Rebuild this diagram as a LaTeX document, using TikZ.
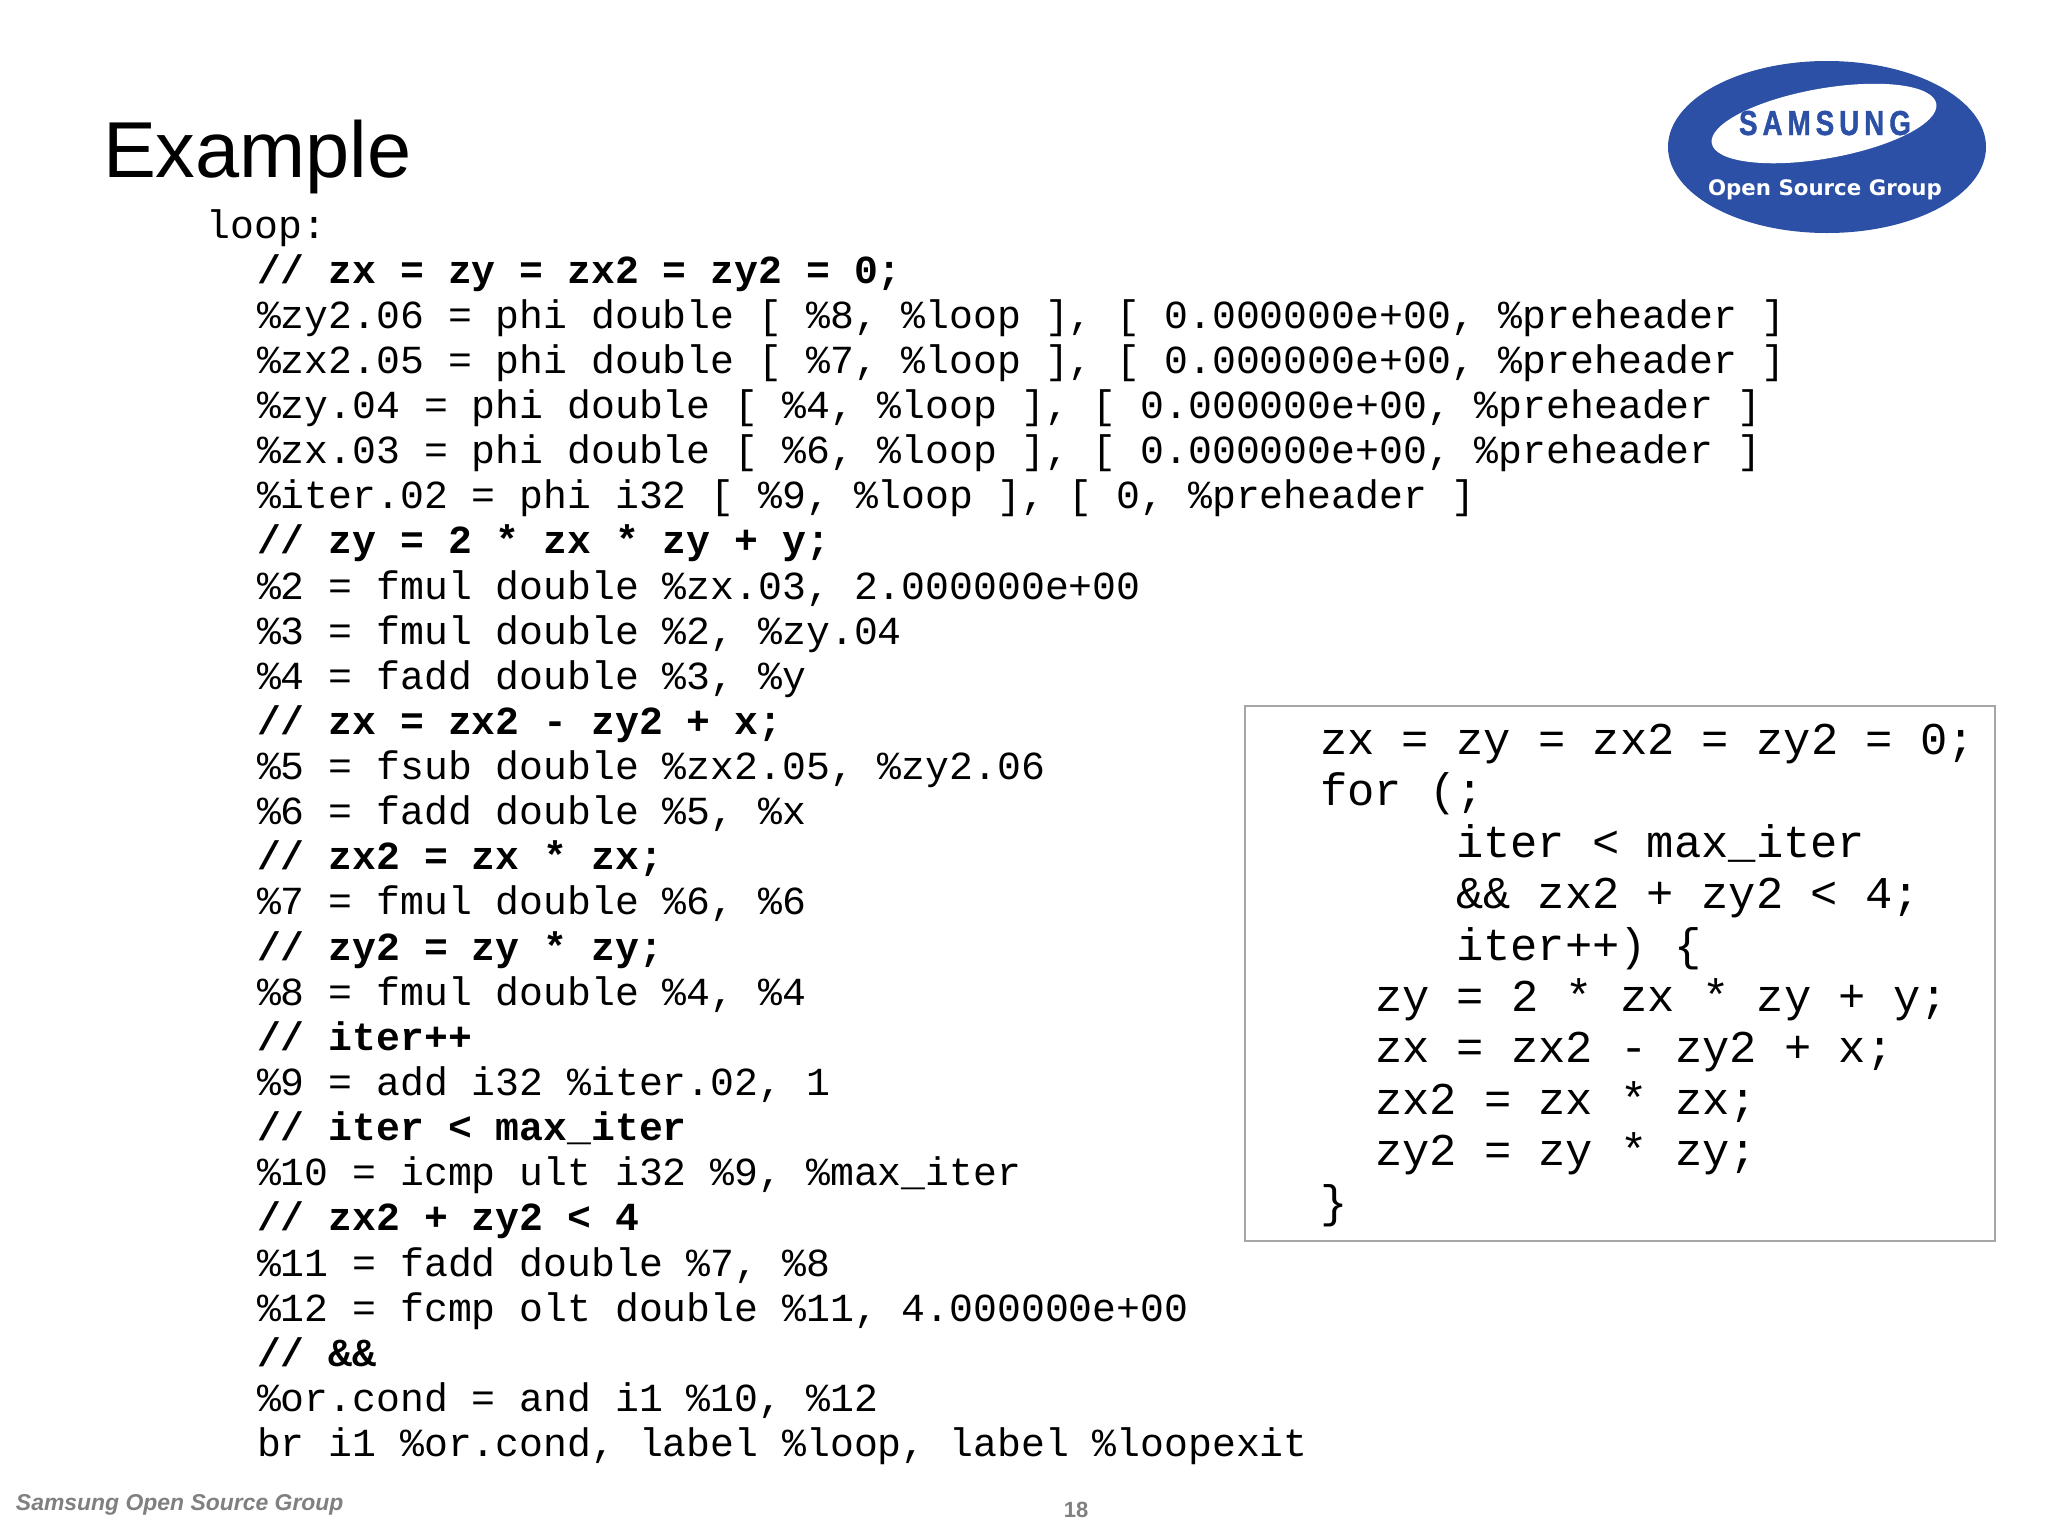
\documentclass[tikz,border=0pt]{standalone}
\usepackage{fontspec}
\setmainfont{Liberation Sans}
\setmonofont{Liberation Mono}
\newfontfamily\logofont{DejaVu Sans}
\newfontfamily\samsungfont[FakeStretch=0.8,LetterSpace=14.5,FakeBold=1.2]{Liberation Sans}
\definecolor{logoblue}{HTML}{2B50A5}
\definecolor{footgray}{HTML}{808080}
\definecolor{boxgray}{HTML}{A6A6A6}
\newcommand{\mainline}[4]{\node[maincode] (#1) at (#3,{238+45.13*#2}) {#4};}
\newcommand{\boxline}[4]{\node[boxcode] (#1) at (#3,{754.5+51.4*#2}) {#4};}
\tikzset{
  txt/.style={inner sep=0pt,outer sep=0pt,anchor=base west},
  maincode/.style={txt,font=\fontsize{29.85pt}{30pt}\selectfont\ttfamily},
  boxcode/.style={txt,font=\fontsize{34.1pt}{34pt}\selectfont\ttfamily},
}
\begin{document}
\begin{tikzpicture}[x=0.75pt,y=-0.75pt]
\useasboundingbox (0,0) rectangle (2048,1536);
\fill[white] (0,0) rectangle (2048,1536);
% title
\node[txt,font=\fontsize{59.5pt}{60pt}\selectfont] (title) at (103,177) {Example};
% logo
\fill[logoblue] (1827,147) ellipse [x radius=159,y radius=86];
\fill[white,rotate around={10:(1824,123.5)}] (1824,123.5) ellipse [x radius=114,y radius=35];
\node[txt,font=\fontsize{26pt}{26pt}\selectfont\samsungfont\bfseries,text=logoblue] (samsung) at (1739,135) {SAMSUNG};
\node[txt,font=\fontsize{16pt}{18pt}\selectfont\logofont\bfseries,text=white] (osg) at (1708,195.5) {Open Source Group};
% main code
\mainline{m0}{0}{206.5}{loop:}
\mainline{m1}{1}{257}{\bfseries // zx = zy = zx2 = zy2 = 0;}
\mainline{m2}{2}{257}{\%zy2.06 = phi double [ \%8, \%loop ], [ 0.000000e+00, \%preheader ]}
\mainline{m3}{3}{257}{\%zx2.05 = phi double [ \%7, \%loop ], [ 0.000000e+00, \%preheader ]}
\mainline{m4}{4}{257}{\%zy.04 = phi double [ \%4, \%loop ], [ 0.000000e+00, \%preheader ]}
\mainline{m5}{5}{257}{\%zx.03 = phi double [ \%6, \%loop ], [ 0.000000e+00, \%preheader ]}
\mainline{m6}{6}{257}{\%iter.02 = phi i32 [ \%9, \%loop ], [ 0, \%preheader ]}
\mainline{m7}{7}{257}{\bfseries // zy = 2 * zx * zy + y;}
\mainline{m8}{8}{257}{\%2 = fmul double \%zx.03, 2.000000e+00}
\mainline{m9}{9}{257}{\%3 = fmul double \%2, \%zy.04}
\mainline{m10}{10}{257}{\%4 = fadd double \%3, \%y}
\mainline{m11}{11}{257}{\bfseries // zx = zx2 - zy2 + x;}
\mainline{m12}{12}{257}{\%5 = fsub double \%zx2.05, \%zy2.06}
\mainline{m13}{13}{257}{\%6 = fadd double \%5, \%x}
\mainline{m14}{14}{257}{\bfseries // zx2 = zx * zx;}
\mainline{m15}{15}{257}{\%7 = fmul double \%6, \%6}
\mainline{m16}{16}{257}{\bfseries // zy2 = zy * zy;}
\mainline{m17}{17}{257}{\%8 = fmul double \%4, \%4}
\mainline{m18}{18}{257}{\bfseries // iter++}
\mainline{m19}{19}{257}{\%9 = add i32 \%iter.02, 1}
\mainline{m20}{20}{257}{\bfseries // iter < max\_iter}
\mainline{m21}{21}{257}{\%10 = icmp ult i32 \%9, \%max\_iter}
\mainline{m22}{22}{257}{\bfseries // zx2 + zy2 < 4}
\mainline{m23}{23}{257}{\%11 = fadd double \%7, \%8}
\mainline{m24}{24}{257}{\%12 = fcmp olt double \%11, 4.000000e+00}
\mainline{m25}{25}{257}{\bfseries // \&\&}
\mainline{m26}{26}{257}{\%or.cond = and i1 \%10, \%12}
\mainline{m27}{27}{257}{br i1 \%or.cond, label \%loop, label \%loopexit}
% box
\draw[boxgray,line width=1.1pt] (1245,706) rectangle (1995,1241);
\boxline{b0}{0}{1320}{zx = zy = zx2 = zy2 = 0;}
\boxline{b1}{1}{1320}{for (;}
\boxline{b2}{2}{1456}{iter < max\_iter}
\boxline{b3}{3}{1456}{\&\& zx2 + zy2 < 4;}
\boxline{b4}{4}{1456}{iter++) \{}
\boxline{b5}{5}{1375}{zy = 2 * zx * zy + y;}
\boxline{b6}{6}{1375}{zx = zx2 - zy2 + x;}
\boxline{b7}{7}{1375}{zx2 = zx * zx;}
\boxline{b8}{8}{1375}{zy2 = zy * zy;}
\boxline{b9}{9}{1320}{\}}
% footer
\node[txt,font=\fontsize{17.2pt}{18pt}\selectfont\bfseries\itshape,text=footgray] (foot) at (16,1510.5) {Samsung Open Source Group};
\node[txt,anchor=base,font=\fontsize{16.5pt}{16pt}\selectfont\bfseries,text=footgray] (pagenum) at (1076,1517) {18};
\end{tikzpicture}
\end{document}
